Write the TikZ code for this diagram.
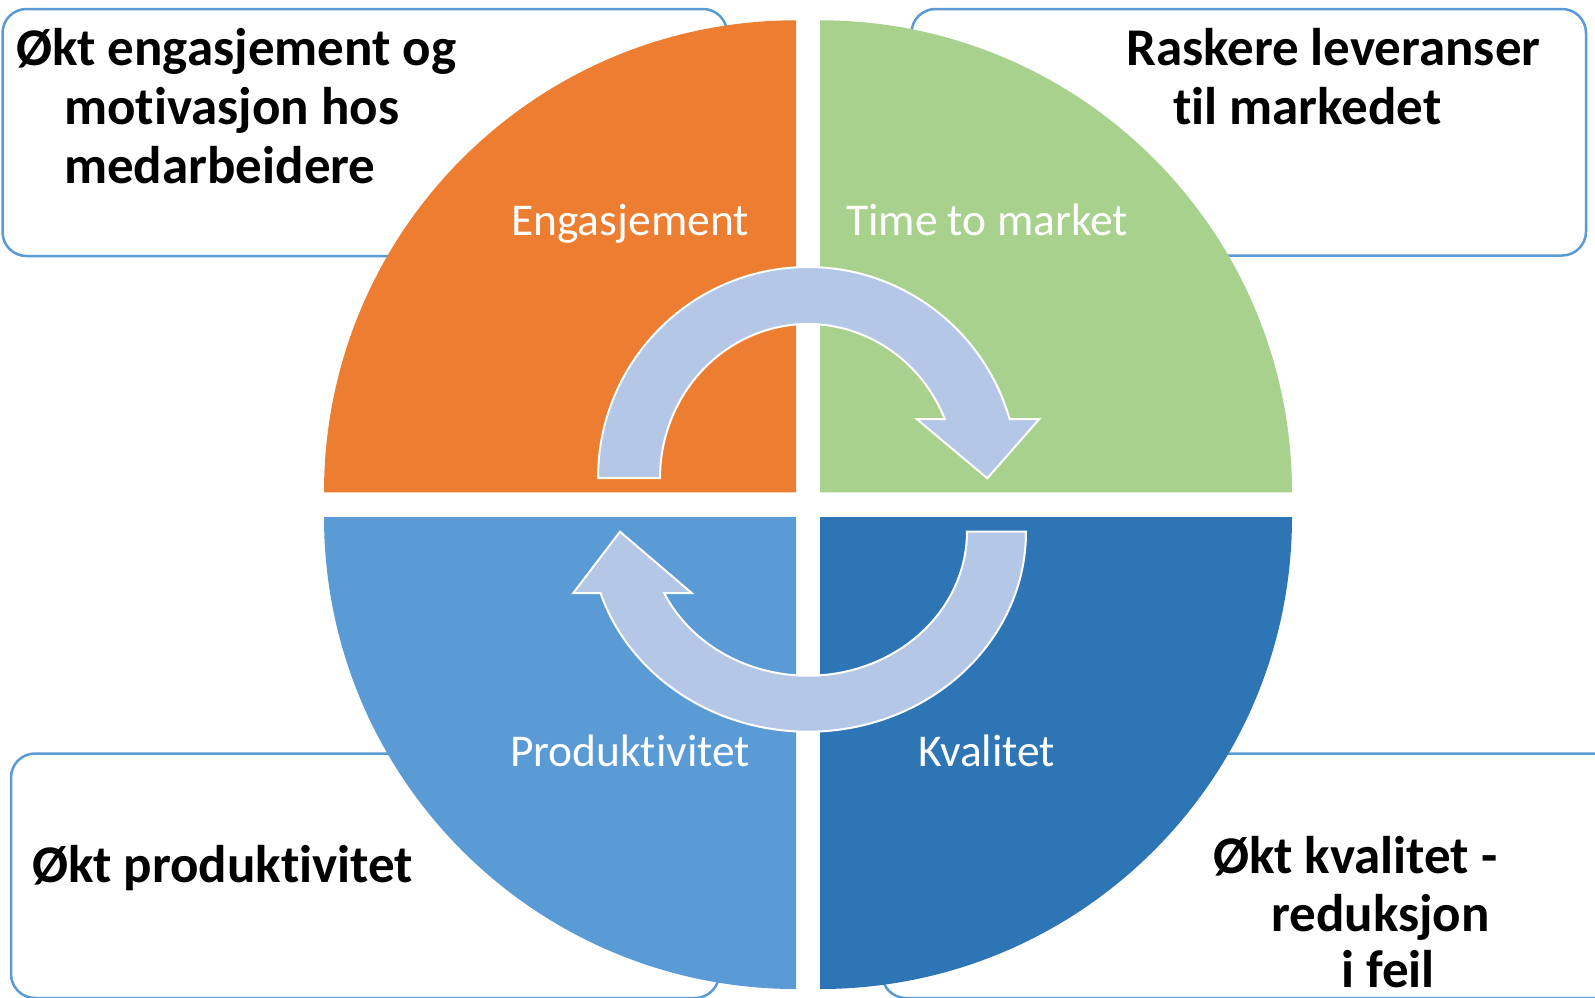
\documentclass[tikz,border=0pt]{standalone}
\usepackage{fontspec}
\setmainfont{Carlito}[Ligatures=NoCommon]
\definecolor{qorange}{HTML}{ED7D31}
\definecolor{qgreen}{HTML}{A9D18E}
\definecolor{qlblue}{HTML}{5B9BD5}
\definecolor{qdblue}{HTML}{2E75B6}
\definecolor{arrowfill}{HTML}{B4C7E7}
\definecolor{boxline}{HTML}{5B9BD5}
\begin{document}
\begin{tikzpicture}[x=1pt,y=-1pt,
  infobox/.style={draw=boxline,line width=2.5pt,fill=white,rounded corners=24pt},
  cyclearrow/.style={fill=arrowfill,draw=white,line width=2pt,line join=miter},
  boxtext/.style={font=\fontsize{53}{58}\selectfont\bfseries,inner sep=0pt,anchor=base west,text=black},
  qlabel/.style={font=\fontsize{45.5}{52}\selectfont,inner sep=0pt,anchor=base,text=white}]
\useasboundingbox (0,0) rectangle (1595,997);
\clip (0,0) rectangle (1595,997);
% outer text boxes
\draw[infobox] (2.5,9) rectangle (727,256);
\draw[infobox] (911.5,9) rectangle (1586,255.5);
\draw[infobox] (11,753.5) rectangle (719,998);
\draw[infobox] (882,753.5) rectangle (1620,998);
% quadrants
\fill[qorange] (796,492.3) -- (324,492.3) arc[start angle=180,end angle=270,radius=472] -- cycle;
\fill[qgreen] (820,492.3) -- (820,20.3) arc[start angle=270,end angle=360,radius=472] -- cycle;
\fill[qdblue] (820,517) -- (1292,517) arc[start angle=0,end angle=90,radius=472] -- cycle;
\fill[qlblue] (796,517) -- (796,989) arc[start angle=90,end angle=180,radius=472] -- cycle;
% cycle arrows
\filldraw[cyclearrow] (598,478) arc[start angle=180,end angle=343.76,x radius=210,y radius=211]
  -- (1039.3,419) -- (987.3,478.3) -- (916.7,419) -- (944.7,419)
  arc[start angle=337.47,end angle=180,x radius=148,y radius=154] -- cycle;
\filldraw[cyclearrow] (967,531.7) -- (1026,531.7) arc[start angle=0,end angle=162.15,x radius=218,y radius=200]
  -- (573.3,593) -- (620,531.7) -- (691.7,593) -- (664.1,593)
  arc[start angle=154.8,end angle=0,x radius=159,y radius=144] -- cycle;
% quadrant labels
\node[qlabel] (lEng) at (630,235) {Engasjement};
\node[qlabel] (lTime) at (987,235) {Time to market};
\node[qlabel] (lProd) at (630,766) {Produktivitet};
\node[qlabel] (lKval) at (987,766) {Kvalitet};
% box texts
\node[boxtext] (tl1) at (16,65) {Økt engasjement og};
\node[boxtext] (tl2) at (64,124) {motivasjon hos};
\node[boxtext] (tl3) at (64,183) {medarbeidere};
\node[boxtext] (tr1) at (1126,65) {Raskere leveranser};
\node[boxtext] (tr2) at (1173,124) {til markedet};
\node[boxtext] (bl1) at (32,882) {Økt produktivitet};
\node[boxtext] (br1) at (1213,873) {Økt kvalitet -};
\node[boxtext] (br2) at (1271,931.5) {reduksjon};
\node[boxtext] (br3) at (1341,987) {i feil};
\end{tikzpicture}
\end{document}
